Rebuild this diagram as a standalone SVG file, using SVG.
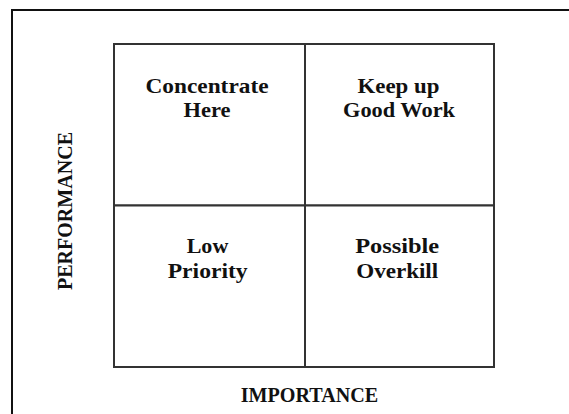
<svg xmlns="http://www.w3.org/2000/svg" width="569" height="414" viewBox="0 0 569 414">
  <style>
    .frame { fill: none; stroke: #111; stroke-width: 2; }
    .cell { fill: #fff; stroke: #333; stroke-width: 2; }
    .lbl { font-family: "Liberation Serif", "Times New Roman", serif; font-weight: bold; font-size: 22px; fill: #111; text-anchor: middle; }
  </style>
  <rect width="569" height="414" fill="#fff"/>
  <!-- page frame: top and left rules only -->
  <path class="frame" d="M12 414 V10 H569"/>

  <g id="concentrate-here">
    <rect class="cell" x="114" y="44" width="191" height="161.5"/>
    <text class="lbl" x="207" y="92.5" textLength="123" lengthAdjust="spacingAndGlyphs">Concentrate</text>
    <text class="lbl" x="207" y="116.7" textLength="47" lengthAdjust="spacingAndGlyphs">Here</text>
  </g>
  <g id="keep-up-good-work">
    <rect class="cell" x="305" y="44" width="189" height="161.5"/>
    <text class="lbl" x="398.5" y="92.7" textLength="82" lengthAdjust="spacingAndGlyphs">Keep up</text>
    <text class="lbl" x="399" y="116.7" textLength="112" lengthAdjust="spacingAndGlyphs">Good Work</text>
  </g>
  <g id="low-priority">
    <rect class="cell" x="114" y="205.5" width="191" height="161.5"/>
    <text class="lbl" x="207.5" y="253.3" textLength="41.6" lengthAdjust="spacingAndGlyphs">Low</text>
    <text class="lbl" x="207.7" y="277.5" textLength="80" lengthAdjust="spacingAndGlyphs">Priority</text>
  </g>
  <g id="possible-overkill">
    <rect class="cell" x="305" y="205.5" width="189" height="161.5"/>
    <text class="lbl" x="397.2" y="253.3" textLength="84" lengthAdjust="spacingAndGlyphs">Possible</text>
    <text class="lbl" x="397.2" y="278" textLength="82" lengthAdjust="spacingAndGlyphs">Overkill</text>
  </g>

  <g id="axis-importance">
    <text class="lbl" x="309.5" y="401.7" textLength="137.6" lengthAdjust="spacingAndGlyphs">IMPORTANCE</text>
  </g>
  <g id="axis-performance">
    <text class="lbl" transform="translate(71.7 211) rotate(-90)" x="0" y="0" textLength="158" lengthAdjust="spacingAndGlyphs">PERFORMANCE</text>
  </g>

  <g id="connectors"></g>
</svg>
